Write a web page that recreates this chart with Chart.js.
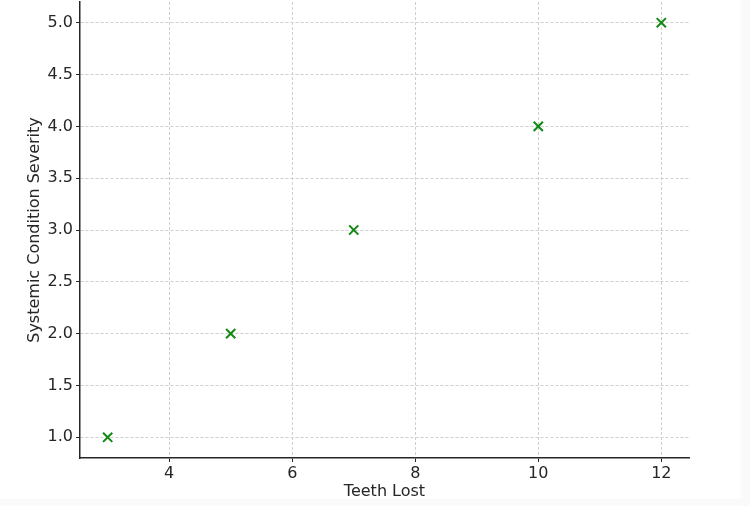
<!DOCTYPE html>
<html lang="en">
<head>
    <meta charset="UTF-8">
    <title>Teeth Lost vs Systemic Condition Severity</title>
    <script src="https://cdn.jsdelivr.net/npm/chart.js"></script>
    <style>
        body { margin: 0; background: #fafafa; }
        #wrap { width: 741px; height: 499px; background: #fff; overflow: hidden; }
    </style>
</head>
<body>
    <div id="wrap"><canvas id="scatterChart" width="750" height="506"></canvas></div>
    <script>
        // data
        var teethLost = [3, 5, 7, 10, 12];
        var severity = [1.0, 2.0, 3.0, 4.0, 5.0];
        var xTicks = [4, 6, 8, 10, 12];
        var yTicks = [1.0, 1.5, 2.0, 2.5, 3.0, 3.5, 4.0, 4.5, 5.0];

        var textColor = '#262626';
        var font = { family: 'DejaVu Sans', size: 16 };

        var ctx = document.getElementById('scatterChart').getContext('2d');
        var scatterChart = new Chart(ctx, {
            type: 'scatter',
            data: {
                datasets: [{
                    data: teethLost.map(function(x, i) { return { x: x, y: severity[i] }; }),
                    pointStyle: 'crossRot',
                    pointRadius: 6.5,
                    pointHoverRadius: 6.5,
                    borderColor: '#118811',
                    backgroundColor: '#118811',
                    pointBorderWidth: 2
                }]
            },
            options: {
                responsive: false,
                animation: false,
                layout: { autoPadding: false, padding: { left: 25, right: 61, top: 2, bottom: 0 } },
                plugins: { legend: { display: false }, tooltip: { enabled: false } },
                scales: {
                    x: {
                        type: 'linear',
                        min: 2.55,
                        max: 12.45,
                        afterBuildTicks: function(scale) { scale.ticks = xTicks.map(function(v) { return { value: v }; }); },
                        afterFit: function(scale) { scale.height = 48; scale.paddingLeft = 0; scale.paddingRight = 0; },
                        grid: { color: '#cfcfcf', tickColor: '#262626', tickLength: 4, lineWidth: 1 },
                        border: { color: '#262626', width: 1.5, dash: [3, 2] },
                        ticks: { color: textColor, font: font, padding: 2, maxRotation: 0 },
                        title: { display: true, text: 'Teeth Lost', color: textColor, font: font, padding: { top: 2, bottom: 5 } }
                    },
                    y: {
                        type: 'linear',
                        min: 0.8,
                        max: 5.2,
                        afterBuildTicks: function(scale) { scale.ticks = yTicks.map(function(v) { return { value: v }; }); },
                        afterFit: function(scale) { scale.width = 55; scale.paddingTop = 0; scale.paddingBottom = 0; },
                        grid: { color: '#cfcfcf', tickColor: '#262626', tickLength: 4, lineWidth: 1 },
                        border: { color: '#262626', width: 1.5, dash: [3, 2] },
                        ticks: {
                            color: textColor, font: font, padding: 3,
                            callback: function(v) { return Number(v).toFixed(1); }
                        },
                        title: { display: true, text: 'Systemic Condition Severity', color: textColor, font: font, padding: { top: 0, bottom: 4 } }
                    }
                }
            }
        });
    </script>
</body>
</html>
